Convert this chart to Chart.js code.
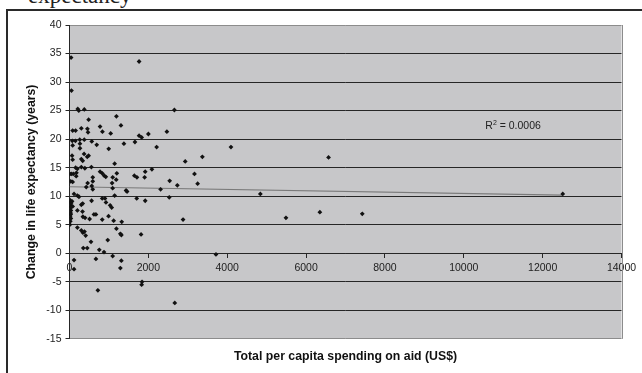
<!DOCTYPE html>
<html>
<head>
<meta charset="utf-8">
<style>
html, body { margin: 0; padding: 0; background: #fff; overflow: hidden; }
#wrap { position: relative; width: 642px; height: 373px; overflow: hidden; }
#caption { position: absolute; left: 28px; top: -16px; font: 23px 'Liberation Serif', serif; line-height: 23px; color: #222; white-space: nowrap; }
#frame { position: absolute; left: 6px; top: 9px; width: 700px; height: 400px; border-left: 2px solid #2a2a2a; border-top: 2px solid #2a2a2a; }
canvas { position: absolute; left: 0; top: 0; }
</style>
<script src="https://cdn.jsdelivr.net/npm/chart.js@4.4.0/dist/chart.umd.min.js"></script>
</head>
<body>
<div id="wrap">
  <div id="caption">expectancy</div>
  <div id="frame"></div>
  <canvas id="chart" width="642" height="373"></canvas>
</div>
<script>
// Spending on aid (US$ per capita) and change in life expectancy (years)
const spending = [
  40, 1765, 50, 210, 235, 375, 2660, 485, 1190, 1305, 775, 835, 1045,
  80, 155, 300, 455, 470, 1765, 1830, 2000, 2470, 2210, 4095, 2935, 3370, 6570,
  70, 150, 260, 375, 565, 265, 265, 690, 995, 1380, 1660, 80,
  65, 80, 300, 335, 370, 450, 485, 1145,
  155, 200, 175, 170, 300, 555, 390, 10, 45, 95,
  775, 830, 880, 920, 590, 590, 1095, 1200, 1080, 30, 80, 460,
  1645, 1710, 1905, 1920, 2090, 2540, 3170, 3250, 2735, 1185,
  2310, 1435, 1460, 425, 565, 590, 1095, 115, 200, 240, 4840, 12510,
  15, 30, 20, 30, 15, 35, 20, 30, 15, 35, 20, 10, 65, 80, 40, 25,
  300, 335, 560, 830, 900, 925, 1030, 1070, 1145,
  200, 330, 340, 395, 510, 620, 670, 830, 990, 1120, 1325,
  1705, 1920, 2530, 2880, 5490, 6350, 7425,
  200, 300, 340, 380, 410, 545, 1190, 1290, 1315, 1815,
  350, 450, 755, 875, 970, 1095, 670, 115, 115, 1315, 1290,
  720, 1840, 1830, 2670, 3715
];
const lifeChange = [
  34.3, 33.6, 28.5, 25.3, 25.0, 25.2, 25.1, 23.4, 24.0, 22.4, 22.2, 21.3, 21.0,
  21.5, 21.5, 21.9, 21.8, 21.2, 20.6, 20.3, 20.9, 21.3, 18.6, 18.6, 16.1, 16.9, 16.8,
  19.7, 19.7, 19.9, 19.9, 19.6, 19.2, 18.4, 19.0, 18.3, 19.2, 19.5, 18.9,
  17.1, 16.4, 16.5, 16.2, 17.4, 16.9, 17.1, 15.7,
  15.0, 14.8, 14.1, 13.5, 15.1, 15.1, 14.9, 13.9, 13.9, 13.9,
  14.3, 14.0, 13.6, 13.4, 13.3, 12.6, 13.3, 14.0, 12.3, 12.6, 12.5, 12.3,
  13.6, 13.3, 13.3, 14.3, 14.7, 12.7, 13.9, 12.2, 11.9, 12.9,
  11.2, 11.0, 10.8, 11.6, 11.8, 11.2, 11.4, 10.4, 10.1, 9.9, 10.4, 10.4,
  9.3, 9.0, 8.6, 8.2, 7.9, 7.5, 7.2, 6.8, 6.5, 6.1, 5.6, 5.0, 9.1, 8.2, 8.8, 7.0,
  8.5, 8.7, 9.2, 9.6, 9.6, 8.9, 8.4, 8.0, 10.1,
  7.5, 7.3, 6.4, 6.2, 6.0, 6.8, 6.8, 5.9, 6.5, 5.7, 5.5,
  9.6, 9.2, 9.8, 5.9, 6.2, 7.2, 6.9,
  4.5, 4.0, 3.6, 3.8, 3.1, 2.0, 4.3, 3.4, 3.2, 3.3,
  0.9, 0.9, 0.6, 0.2, 2.3, -0.5, -1.0, -1.2, -2.8, -1.3, -2.6,
  -6.5, -5.0, -5.5, -8.7, -0.2
];

// Linear trend line, end points
const trendX = [0, 12500];
const trendY = [11.65, 10.17];
const rSquared = '0.0006';

const xTicks = [0, 2000, 4000, 6000, 8000, 10000, 12000, 14000];
const yTicks = [-15, -10, -5, 0, 5, 10, 15, 20, 25, 30, 35, 40];

const gridDark = '#262626';
const gridLight = '#8c8c8c';

Chart.defaults.font.family = "'Liberation Sans', Arial, sans-serif";
Chart.defaults.font.size = 10.5;
Chart.defaults.color = '#222';

// grey plot area, right border and the R² note
const plotDecor = {
    id: 'plotDecor',
    beforeDraw(chart) {
        const { ctx, chartArea: a } = chart;
        ctx.save();
        ctx.fillStyle = '#c7c7c9';
        ctx.fillRect(a.left, a.top, a.width, a.height);
        ctx.restore();
    },
    beforeDatasetsDraw(chart) {
        const { ctx, chartArea: a } = chart;
        ctx.save();
        ctx.strokeStyle = gridLight;
        ctx.lineWidth = 1;
        ctx.beginPath();
        ctx.moveTo(Math.round(a.right) + 0.5, a.top);
        ctx.lineTo(Math.round(a.right) + 0.5, a.bottom);
        ctx.stroke();
        ctx.restore();
    },
    afterDatasetsDraw(chart) {
        const { ctx, scales } = chart;
        const cx = scales.x.getPixelForValue(11250);
        const cy = scales.y.getPixelForValue(22.2);
        const main = "10.5px 'Liberation Sans', Arial, sans-serif";
        const sup = "7px 'Liberation Sans', Arial, sans-serif";
        ctx.save();
        ctx.fillStyle = '#222';
        ctx.textBaseline = 'middle';
        ctx.font = main;
        const wR = ctx.measureText('R').width;
        const wRest = ctx.measureText(' = ' + rSquared).width;
        ctx.font = sup;
        const w2 = ctx.measureText('2').width;
        let x = cx - (wR + w2 + wRest) / 2;
        ctx.font = main;
        ctx.fillText('R', x, cy);
        x += wR;
        ctx.font = sup;
        ctx.fillText('2', x, cy - 4);
        x += w2;
        ctx.font = main;
        ctx.fillText(' = ' + rSquared, x, cy);
        ctx.restore();
    }
};

function getChartConfig() {
    const points = spending.map((v, i) => ({ x: v, y: lifeChange[i] }));
    const trend = trendX.map((v, i) => ({ x: v, y: trendY[i] }));

    return {
        type: 'scatter',
        data: {
            datasets: [
                {
                    label: 'Countries',
                    data: points,
                    pointStyle: 'rectRot',
                    pointRadius: 2.4,
                    backgroundColor: '#111',
                    borderWidth: 0,
                    order: 0
                },
                {
                    label: 'Trend',
                    data: trend,
                    showLine: true,
                    borderColor: '#7a7a7a',
                    borderWidth: 1.2,
                    pointRadius: 0,
                    order: 1
                }
            ]
        },
        options: {
            responsive: false,
            animation: false,
            layout: { padding: { top: 25, right: 20.5, bottom: 0, left: 0 } },
            plugins: {
                legend: { display: false },
                tooltip: { enabled: false },
                title: {
                    display: true,
                    position: 'bottom',
                    fullSize: false,
                    text: 'Total per capita spending on aid (US$)',
                    color: '#111',
                    font: { size: 12.3, weight: 'bold' },
                    padding: { top: 10.8, bottom: 8.6 }
                }
            },
            scales: {
                x: {
                    type: 'linear',
                    position: { y: 0 },
                    min: 0,
                    max: 14000,
                    afterBuildTicks: (scale) => { scale.ticks = xTicks.map(v => ({ value: v })); },
                    ticks: {
                        padding: 5,
                        maxRotation: 0,
                        callback: (v) => String(v)
                    },
                    grid: {
                        drawOnChartArea: false,
                        drawTicks: true,
                        tickLength: 4,
                        color: gridDark
                    },
                    border: { display: true, color: gridDark, width: 1 }
                },
                y: {
                    type: 'linear',
                    min: -15,
                    max: 40,
                    afterBuildTicks: (scale) => { scale.ticks = yTicks.map(v => ({ value: v })); },
                    afterFit: (scale) => { scale.width = 69.5; },
                    ticks: { padding: 4 },
                    title: {
                        display: true,
                        text: 'Change in life expectancy (years)',
                        color: '#111',
                        font: { size: 12.3, weight: 'bold' },
                        padding: { top: 24.6, bottom: 0 }
                    },
                    grid: {
                        tickLength: 4,
                        tickColor: gridDark,
                        color: (ctx) => (ctx.tick && (ctx.tick.value === 40 || ctx.tick.value === -15)) ? gridLight : gridDark
                    },
                    border: { display: true, color: gridDark, width: 1 }
                }
            }
        },
        plugins: [plotDecor]
    };
}

new Chart(document.getElementById('chart').getContext('2d'), getChartConfig());
</script>
</body>
</html>
